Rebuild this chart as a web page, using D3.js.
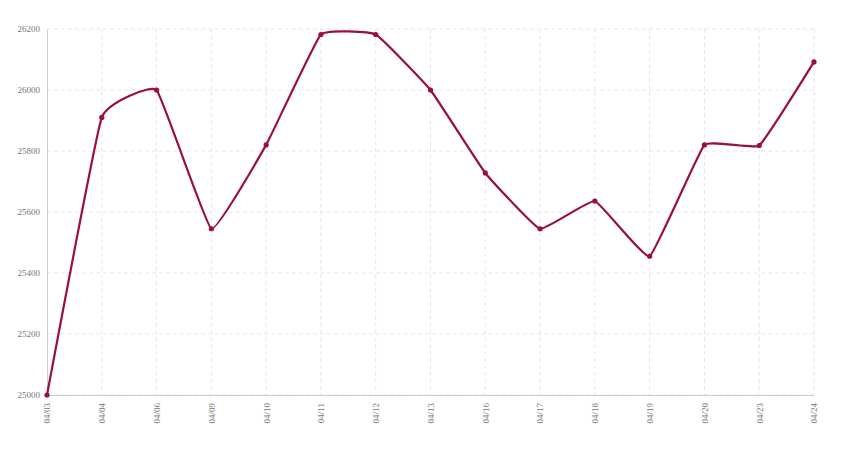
<!DOCTYPE html>
<html><head><meta charset="utf-8">
<script src="https://cdn.jsdelivr.net/npm/d3@7"></script>
<style>body{margin:0;background:#fff}</style>
</head><body><svg id="c" width="850" height="450"></svg>
<script>
const categories = ["04/03","04/04","04/06","04/09","04/10","04/11","04/12","04/13","04/16","04/17","04/18","04/19","04/20","04/23","04/24"];
const values = [25000,25910,26000,25545,25820,26182,26182,26000,25728,25545,25636,25455,25820,25818,26092];
const yTicks = [25000,25200,25400,25600,25800,26000,26200];

const svg = d3.select("#c");
const m = {left:47, right:36, top:29, bottom:55};
const W = 850, H = 450;
const x = d3.scalePoint().domain(categories).range([m.left, W - m.right]);
const y = d3.scaleLinear().domain([25000,26200]).range([H - m.bottom, m.top]);

const grid = svg.append("g");
grid.selectAll("line.h").data(yTicks).join("line")
  .attr("x1", m.left).attr("x2", W - m.right)
  .attr("y1", d=>y(d)).attr("y2", d=>y(d))
  .attr("stroke","#e6e6e6").attr("stroke-dasharray","4,3");
grid.selectAll("line.v").data(categories.slice(1)).join("line")
  .attr("x1", d=>x(d)).attr("x2", d=>x(d))
  .attr("y1", m.top).attr("y2", H - m.bottom)
  .attr("stroke","#e6e6e6").attr("stroke-dasharray","4,3");

const yAxis = svg.append("g").attr("transform",`translate(${m.left},0)`)
  .call(d3.axisLeft(y).tickValues(yTicks).tickFormat(d3.format("d")).tickSize(0).tickPadding(7));
yAxis.select(".domain").attr("stroke","#ccc");
yAxis.selectAll("text").attr("fill","#777").style("font-family","'Liberation Serif', serif").style("font-size","9px");

const xAxis = svg.append("g").attr("transform",`translate(0,${H - m.bottom})`)
  .call(d3.axisBottom(x).tickSize(0).tickPadding(8));
xAxis.select(".domain").attr("stroke","#ccc");
xAxis.selectAll("text").attr("fill","#777").style("font-family","'Liberation Serif', serif").style("font-size","9px")
  .attr("transform","rotate(-90)").attr("text-anchor","end").attr("x",-8).attr("y",0).attr("dy","0.32em");

const pts = categories.map((c,i)=>({c, v: values[i]}));
const line = d3.line().x(d=>x(d.c)).y(d=>y(d.v)).curve(d3.curveCardinal.tension(0.7));
svg.append("path").datum(pts).attr("d", line).attr("fill","none")
  .attr("stroke","#990f3d").attr("stroke-width",2.2);
svg.selectAll("circle.p").data(pts).join("circle")
  .attr("cx", d=>x(d.c)).attr("cy", d=>y(d.v)).attr("r",2.6).attr("fill","#990f3d");
</script></body></html>
